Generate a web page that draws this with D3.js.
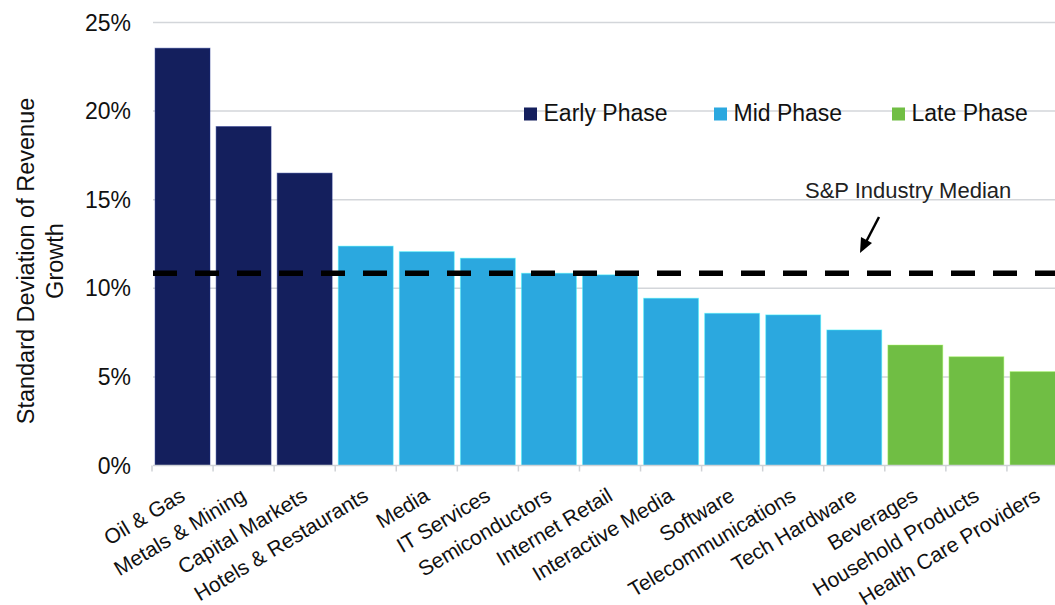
<!DOCTYPE html>
<html>
<head>
<meta charset="utf-8">
<script src="https://cdn.jsdelivr.net/npm/d3@7"></script>
<style>
  html, body { margin: 0; padding: 0; background: #fff; }
  svg { display: block; font-family: "Liberation Sans", Arial, Helvetica, sans-serif; }
</style>
</head>
<body>
<svg id="chart" width="1055" height="605"></svg>
<script>
// Industries ordered by volatility of revenue growth
const categories = [
  "Oil & Gas", "Metals & Mining", "Capital Markets", "Hotels & Restaurants",
  "Media", "IT Services", "Semiconductors", "Internet Retail",
  "Interactive Media", "Software", "Telecommunications", "Tech Hardware",
  "Beverages", "Household Products", "Health Care Providers"
];
// Standard deviation of revenue growth, in percent
const values = [23.55, 19.13, 16.5, 12.38, 12.07, 11.7, 10.85, 10.76, 9.44, 8.59, 8.5, 7.65, 6.8, 6.14, 5.3];
// Cycle phase for each industry
const phases = [
  "Early", "Early", "Early", "Mid", "Mid", "Mid", "Mid", "Mid",
  "Mid", "Mid", "Mid", "Mid", "Late", "Late", "Late"
];
const phaseNames = ["Early", "Mid", "Late"];
const phaseLabels = ["Early Phase", "Mid Phase", "Late Phase"];
const yTicks = [0, 5, 10, 15, 20, 25];
const medianValue = 10.85;
const medianLabel = "S&P Industry Median";
const yTitle = ["Standard Deviation of Revenue", "Growth"];

const colour = d3.scaleOrdinal()
  .domain(phaseNames)
  .range(["#141f5d", "#2ba8df", "#70be44"]);

const svg = d3.select("#chart");

const x = d3.scaleBand()
  .domain(categories)
  .range([152, 1068])
  .paddingInner(0.1)
  .paddingOuter(0.05);

const y = d3.scaleLinear()
  .domain([0, 25])
  .range([465.5, 22.5]);

const plotLeft = 153, plotRight = 1055;

// horizontal gridlines
svg.append("g")
  .selectAll("line")
  .data(yTicks.filter(t => t > 0))
  .join("line")
  .attr("x1", plotLeft).attr("x2", plotRight)
  .attr("y1", d => y(d)).attr("y2", d => y(d))
  .attr("stroke", "#d3d6da")
  .attr("stroke-width", 1.5);

// y tick labels
svg.append("g")
  .selectAll("text")
  .data(yTicks)
  .join("text")
  .attr("x", 131)
  .attr("y", d => y(d) + 8)
  .attr("text-anchor", "end")
  .attr("font-size", 23)
  .attr("fill", "#111")
  .text(d => d + "%");

// y axis title (two lines)
const title = svg.append("text")
  .attr("transform", "translate(34,261) rotate(-90)")
  .attr("text-anchor", "middle")
  .attr("font-size", 23.5)
  .attr("fill", "#111");
title.selectAll("tspan")
  .data(yTitle)
  .join("tspan")
  .attr("x", 0)
  .attr("dy", (d, i) => i === 0 ? 0 : 29)
  .text(d => d);

// bars
svg.append("g")
  .selectAll("rect")
  .data(categories)
  .join("rect")
  .attr("x", d => x(d))
  .attr("width", x.bandwidth())
  .attr("y", (d, i) => y(values[i]))
  .attr("height", (d, i) => y(0) - y(values[i]))
  .attr("fill", (d, i) => colour(phases[i]))
  .attr("stroke", (d, i) => d3.color(colour(phases[i])).brighter(1.2))
  .attr("stroke-opacity", 0.45)
  .attr("stroke-width", 1);

// baseline and category ticks
const step = x.step();
const bounds = categories.map(c => x(c) - x.paddingInner() * step / 2);
bounds.push(bounds[bounds.length - 1] + step);
svg.append("line")
  .attr("x1", plotLeft).attr("x2", plotRight)
  .attr("y1", y(0)).attr("y2", y(0))
  .attr("stroke", "#cfd2d6")
  .attr("stroke-width", 1.5);
svg.append("g")
  .selectAll("line")
  .data(bounds)
  .join("line")
  .attr("x1", d => d).attr("x2", d => d)
  .attr("y1", y(0)).attr("y2", y(0) + 6)
  .attr("stroke", "#cfd2d6")
  .attr("stroke-width", 1.5);

// category labels, rotated
svg.append("g")
  .selectAll("text")
  .data(categories)
  .join("text")
  .attr("transform", d => `translate(${x(d) + x.bandwidth() / 2 + 4},${y(0) + 34}) rotate(-31)`)
  .attr("text-anchor", "end")
  .attr("font-size", 21)
  .attr("fill", "#111")
  .text(d => d);

// industry median reference line
svg.append("line")
  .attr("x1", plotLeft).attr("x2", plotRight)
  .attr("y1", y(medianValue)).attr("y2", y(medianValue))
  .attr("stroke", "#000")
  .attr("stroke-width", 5.5)
  .attr("stroke-dasharray", "24 18");

// median annotation with arrow
svg.append("text")
  .attr("x", 805)
  .attr("y", 197.5)
  .attr("font-size", 22)
  .attr("fill", "#222")
  .text(medianLabel);
svg.append("line")
  .attr("x1", 879).attr("y1", 217)
  .attr("x2", 866).attr("y2", 242)
  .attr("stroke", "#000")
  .attr("stroke-width", 2.5);
svg.append("path")
  .attr("d", "M860,253 L861,237 L872,243 Z")
  .attr("fill", "#000");

// legend
const legendX = [524, 714, 892];
const legend = svg.append("g")
  .selectAll("g")
  .data(phaseNames)
  .join("g")
  .attr("transform", (d, i) => `translate(${legendX[i]},0)`);
legend.append("rect")
  .attr("x", 0).attr("y", 107.5)
  .attr("width", 13).attr("height", 13)
  .attr("fill", d => colour(d));
legend.append("text")
  .attr("x", 19.5)
  .attr("y", 120.7)
  .attr("font-size", 23)
  .attr("fill", "#111")
  .text((d, i) => phaseLabels[i]);
</script>
</body>
</html>
